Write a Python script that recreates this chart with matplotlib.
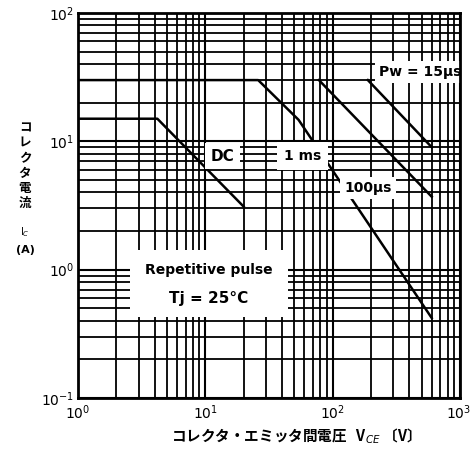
import matplotlib
matplotlib.use("Agg")
import matplotlib.pyplot as plt
from matplotlib.ticker import LogLocator, NullFormatter
from matplotlib.patches import Rectangle

# Data
dc_v = [1, 4.2, 20]
dc_i = [15, 15, 3.1]
ms1_v = [1, 26, 54, 600]
ms1_i = [30, 30, 14.7, 0.42]
us100_v = [78, 600]
us100_i = [30, 3.7]
us15_v = [189, 600]
us15_i = [30, 9.0]

x_ticks = [1, 10, 100, 1000]
y_ticks = [0.1, 1, 10, 100]

jp = ['Noto Sans CJK JP', 'DejaVu Sans']

fig = plt.figure(figsize=(4.71, 4.57), dpi=100)
ax = fig.add_axes([0.1656, 0.1291, 0.811, 0.8425])
ax.set_xscale('log')
ax.set_yscale('log')
ax.set_xlim(1, 1000)
ax.set_ylim(0.1, 100)

ax.xaxis.set_major_locator(LogLocator(base=10))
ax.yaxis.set_major_locator(LogLocator(base=10))
ax.xaxis.set_minor_locator(LogLocator(base=10, subs=range(2, 10)))
ax.yaxis.set_minor_locator(LogLocator(base=10, subs=range(2, 10)))
ax.xaxis.set_minor_formatter(NullFormatter())
ax.yaxis.set_minor_formatter(NullFormatter())
ax.set_xticks(x_ticks)
ax.set_yticks(y_ticks)
ax.grid(which='major', color='black', lw=1.5, zorder=1)
ax.grid(which='minor', color='black', lw=1.3, zorder=1)
ax.set_axisbelow(True)
ax.tick_params(which='both', length=0)
ax.tick_params(axis='x', pad=4, labelsize=10)
ax.tick_params(axis='y', pad=3, labelsize=10)
for s in ax.spines.values():
    s.set_linewidth(2)
    s.set_zorder(5)

lw = 1.8
ax.plot(dc_v, dc_i, color='black', lw=lw, zorder=3)
ax.plot(ms1_v, ms1_i, color='black', lw=lw, zorder=3)
ax.plot(us100_v, us100_i, color='black', lw=lw, zorder=3)
ax.plot(us15_v, us15_i, color='black', lw=lw, zorder=3)

# White box for the annotation
ax.add_patch(Rectangle((0.136, 0.21), 0.415, 0.175, transform=ax.transAxes,
                       facecolor='white', edgecolor='none', zorder=2))
ax.text(0.343, 0.333, 'Repetitive pulse', transform=ax.transAxes, ha='center',
        va='center', fontsize=10, fontweight='bold', zorder=4)
ax.text(0.343, 0.258, 'Tj = 25°C', transform=ax.transAxes, ha='center',
        va='center', fontsize=11, fontweight='bold', zorder=4)

bb = dict(facecolor='white', edgecolor='none', pad=3)
ax.text(0.378, 0.628, 'DC', transform=ax.transAxes, ha='center', va='center',
        fontsize=11, fontweight='bold', bbox=dict(facecolor='white', edgecolor='none', pad=4), zorder=4)
ax.text(0.587, 0.628, '1 ms', transform=ax.transAxes, ha='center', va='center',
        fontsize=10, fontweight='bold', bbox=dict(facecolor='white', edgecolor='none', pad=5), zorder=4)
ax.text(0.76, 0.545, '100μs', transform=ax.transAxes, ha='center', va='center',
        fontsize=10, fontweight='bold', bbox=bb, zorder=4)
ax.text(0.895, 0.847, 'Pw = 15μs', transform=ax.transAxes, ha='center', va='center',
        fontsize=10, fontweight='bold', bbox=bb, zorder=4)

# keep the last x tick label inside the figure
fig.canvas.draw()
xl = ax.get_xticklabels()
xl[-1].set_horizontalalignment('right')
xl[-1].set_x(1000)
import matplotlib.transforms as mtransforms
offset = mtransforms.ScaledTranslation(8 / 72, 0, fig.dpi_scale_trans)
xl[-1].set_transform(xl[-1].get_transform() + offset)

# Axis labels
fig.text(0.053, 0.637, 'コ\nレ\nク\nタ\n電\n流', ha='center', va='center',
         fontsize=9, family=jp, fontweight='bold', linespacing=1.2)
fig.text(0.053, 0.492, 'I$_C$', ha='center', va='center', fontsize=7)
fig.text(0.053, 0.452, '(A)', ha='center', va='center', fontsize=8, fontweight='bold')
fig.text(0.62, 0.046, 'コレクタ・エミッタ間電圧   V$_{CE}$ 〔V〕', ha='center', va='center',
         fontsize=10.5, family=jp, fontweight='bold')

fig.savefig('out.png', dpi=100)
